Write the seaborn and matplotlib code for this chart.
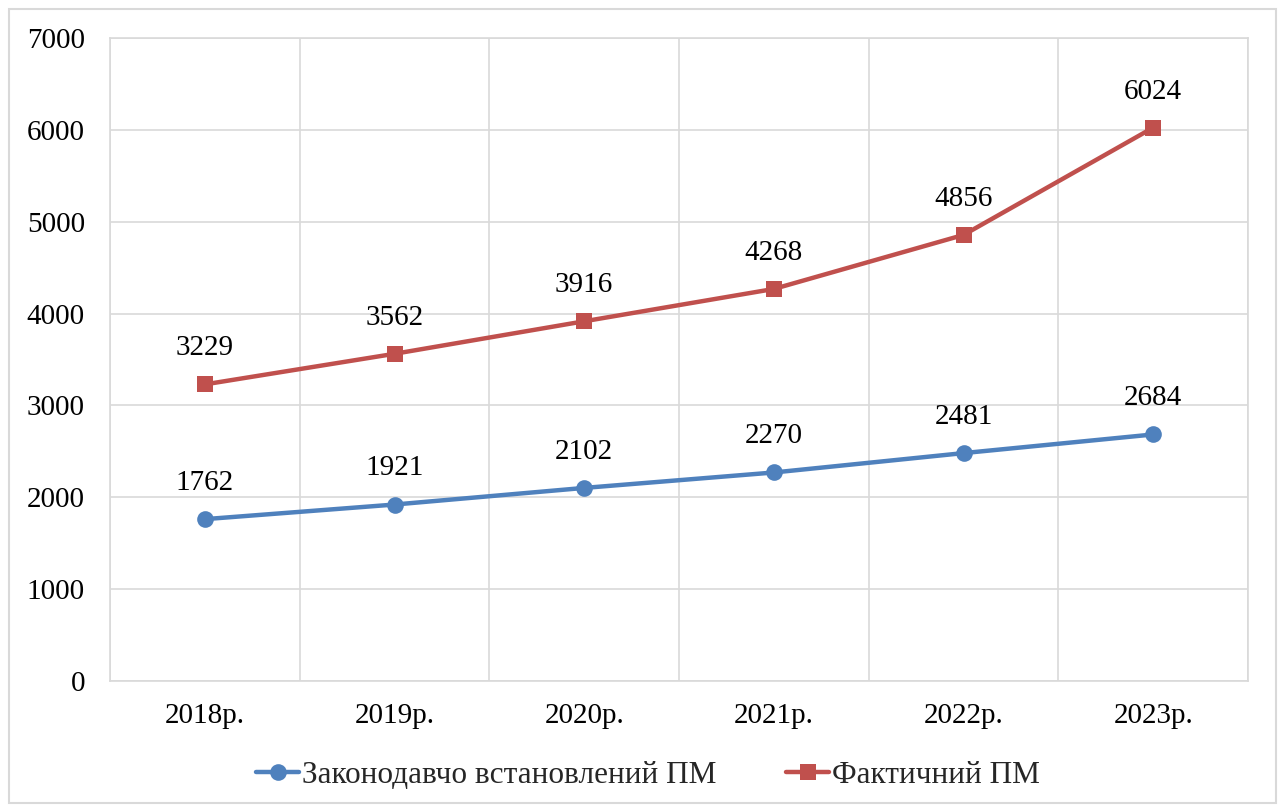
import matplotlib
matplotlib.use("Agg")
import matplotlib.pyplot as plt
import seaborn as sns
import pandas as pd
import numpy as np
from matplotlib.patches import Rectangle

years = ["2018р.", "2019р.", "2020р.", "2021р.", "2022р.", "2023р."]
legal_pm = [1762, 1921, 2102, 2270, 2481, 2684]
actual_pm = [3229, 3562, 3916, 4268, 4856, 6024]
series_names = ["Законодавчо встановлений ПМ", "Фактичний ПМ"]

sns.set_theme(style="white")
plt.rcParams['font.family'] = ['Liberation Serif', 'DejaVu Serif']

df = pd.DataFrame({
    "x": list(range(len(years))) * 2,
    "value": legal_pm + actual_pm,
    "series": [series_names[0]] * len(years) + [series_names[1]] * len(years),
})

fig = plt.figure(figsize=(12.78, 8.05), dpi=100)
ax = fig.add_axes([110/1278, 1 - 681/805, (1248-110)/1278, (681-38)/805])

palette = {series_names[0]: "#4F81BD", series_names[1]: "#C0504D"}
sns.lineplot(data=df, x="x", y="value", hue="series", style="series",
             markers={series_names[0]: "o", series_names[1]: "s"},
             dashes=False, palette=palette, linewidth=3.2, markersize=12,
             markeredgewidth=0, ax=ax)

ax.set_xlim(-0.5, len(years) - 0.5)
ax.set_ylim(0, 7000)
ax.set_yticks(np.arange(0, 7001, 1000))
ax.set_xticks(range(len(years)))
ax.set_xticklabels(years)
ax.set_xticks(np.arange(-0.5, len(years), 1.0), minor=True)
ax.grid(False)
ax.grid(True, which="minor", axis="x", color="#D9D9D9", linewidth=1.2)
ax.grid(True, which="major", axis="y", color="#D9D9D9", linewidth=1.2)
ax.set_axisbelow(True)
for s in ax.spines.values():
    s.set_color("#D9D9D9")
    s.set_linewidth(1.2)
ax.tick_params(axis="both", which="both", length=0, labelsize=21, colors="black")
ax.tick_params(axis="y", pad=18)
ax.tick_params(axis="x", pad=16)
ax.set_xlabel("")
ax.set_ylabel("")

for vals in (legal_pm, actual_pm):
    for i, v in enumerate(vals):
        ax.annotate(str(v), (i, v), xytext=(0, 26), textcoords="offset points",
                    ha="center", va="center", fontsize=21, color="black")

handles, labels = ax.get_legend_handles_labels()
leg = ax.legend(handles, labels, loc="center", bbox_to_anchor=(648/1278, 1 - 775/805),
                bbox_transform=fig.transFigure, ncol=2, frameon=False,
                fontsize=22.5, handlelength=1.4, handletextpad=0.1, columnspacing=2.2)

fig.patches.append(Rectangle((9/1278, 2/805), (1276-9)/1278, (805-9-2)/805,
                             transform=fig.transFigure, fill=False,
                             edgecolor="#D9D9D9", linewidth=1.5))

fig.savefig("out.png", dpi=100, facecolor="white")
